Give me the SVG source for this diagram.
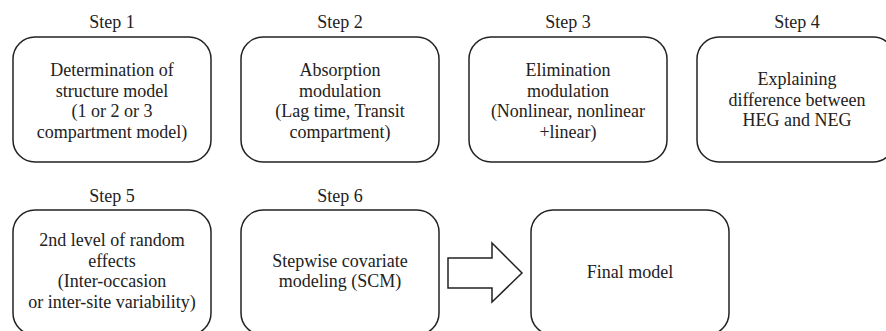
<svg xmlns="http://www.w3.org/2000/svg" width="886" height="331" viewBox="0 0 886 331">
<style>
.box{fill:#fff;stroke:#222;stroke-width:1.5}
.arrow{fill:#fff;stroke:#222;stroke-width:1.5;stroke-linejoin:miter}
</style>
<rect width="886" height="331" fill="#fff"/>
<g font-family="Liberation Serif, Times New Roman, serif" font-size="18" fill="#222" text-anchor="middle">
<g id="step1">
<text x="112" y="28">Step 1</text>
<rect class="box" x="13" y="37" width="198" height="125" rx="22"/>
<text x="112" y="76">Determination of</text>
<text x="112" y="97">structure model</text>
<text x="112" y="117">(1 or 2 or 3</text>
<text x="112" y="138">compartment model)</text>
</g>
<g id="step2">
<text x="340" y="28">Step 2</text>
<rect class="box" x="241" y="37" width="198" height="125" rx="22"/>
<text x="340" y="76">Absorption</text>
<text x="340" y="97">modulation</text>
<text x="340" y="117">(Lag time, Transit</text>
<text x="340" y="138">compartment)</text>
</g>
<g id="step3">
<text x="568" y="28">Step 3</text>
<rect class="box" x="469" y="37" width="198" height="125" rx="22"/>
<text x="568" y="76">Elimination</text>
<text x="568" y="97">modulation</text>
<text x="568" y="117">(Nonlinear, nonlinear</text>
<text x="568" y="138">+linear)</text>
</g>
<g id="step4">
<text x="797" y="28">Step 4</text>
<rect class="box" x="697" y="37" width="198" height="125" rx="22"/>
<text x="797" y="85">Explaining</text>
<text x="797" y="106">difference between</text>
<text x="797" y="126">HEG and NEG</text>
</g>
<g id="step5">
<text x="112" y="202">Step 5</text>
<rect class="box" x="13" y="210" width="198" height="125" rx="22"/>
<text x="112" y="246">2nd level of random</text>
<text x="112" y="267">effects</text>
<text x="112" y="287">(Inter-occasion</text>
<text x="112" y="308">or inter-site variability)</text>
</g>
<g id="step6">
<text x="340" y="202">Step 6</text>
<rect class="box" x="241" y="210" width="198" height="125" rx="22"/>
<text x="340" y="267">Stepwise covariate</text>
<text x="340" y="287">modeling (SCM)</text>
</g>
<g id="final">
<rect class="box" x="531" y="210" width="198" height="125" rx="22"/>
<text x="630" y="278">Final model</text>
</g>
</g>
<g id="connectors">
<path class="arrow" d="M448,258 L492,258 L492,243 L522,273 L492,302 L492,288 L448,288 Z"/>
</g>
</svg>
